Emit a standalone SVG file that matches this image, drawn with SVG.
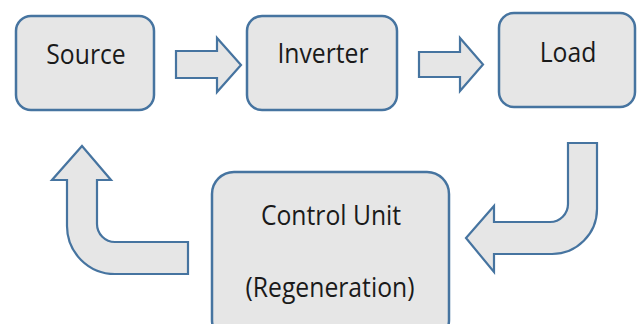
<svg xmlns="http://www.w3.org/2000/svg" width="643" height="324" viewBox="0 0 643 324">
<style>
.box{fill:#e6e6e6;stroke:#4674a0;stroke-width:2.5}
.arr{fill:#e6e6e6;stroke:#4674a0;stroke-width:2.2;stroke-linejoin:miter}
.lbl{font-family:"Open Sans","Liberation Sans",sans-serif;font-size:24px;font-weight:500;fill:#1a1a1a;text-anchor:middle}
</style>
<rect width="643" height="324" fill="#ffffff"/>
<g id="source">
<rect class="box" x="16" y="16" width="138" height="94" rx="15"/>
<text class="lbl" transform="translate(86,64) scale(1.03,1.15)">Source</text>
</g>
<g id="inverter">
<rect class="box" x="247" y="16" width="150" height="94" rx="15"/>
<text class="lbl" transform="translate(323,63) scale(1.03,1.15)">Inverter</text>
</g>
<g id="load">
<rect class="box" x="499" y="13" width="136" height="94" rx="15"/>
<text class="lbl" transform="translate(568,62) scale(1.03,1.15)">Load</text>
</g>
<g id="control">
<rect class="box" x="212" y="172" width="237" height="170" rx="22"/>
<text class="lbl" transform="translate(331,225) scale(1.03,1.15)">Control Unit</text>
<text class="lbl" transform="translate(330,297) scale(1.03,1.15)">(Regeneration)</text>
</g>
<g id="connectors">
<path class="arr" d="M176,51 H217 V38 L241,65 L217,92 V78 H176 Z"/>
<path class="arr" d="M419,52 H460 V38 L483,64.5 L460,91 V77 H419 Z"/>
<path class="arr" d="M568,143 H597 V209 A45,45 0 0 1 552,254 H494 V272 L466,238 L494,206 V222 H550 A18,18 0 0 0 568,204 Z"/>
<path class="arr" d="M82,146 L111,180 H97 V224 A18,18 0 0 0 115,242 H188 V274 H115 A48,48 0 0 1 67,226 V180 H52 Z"/>
</g>
</svg>
